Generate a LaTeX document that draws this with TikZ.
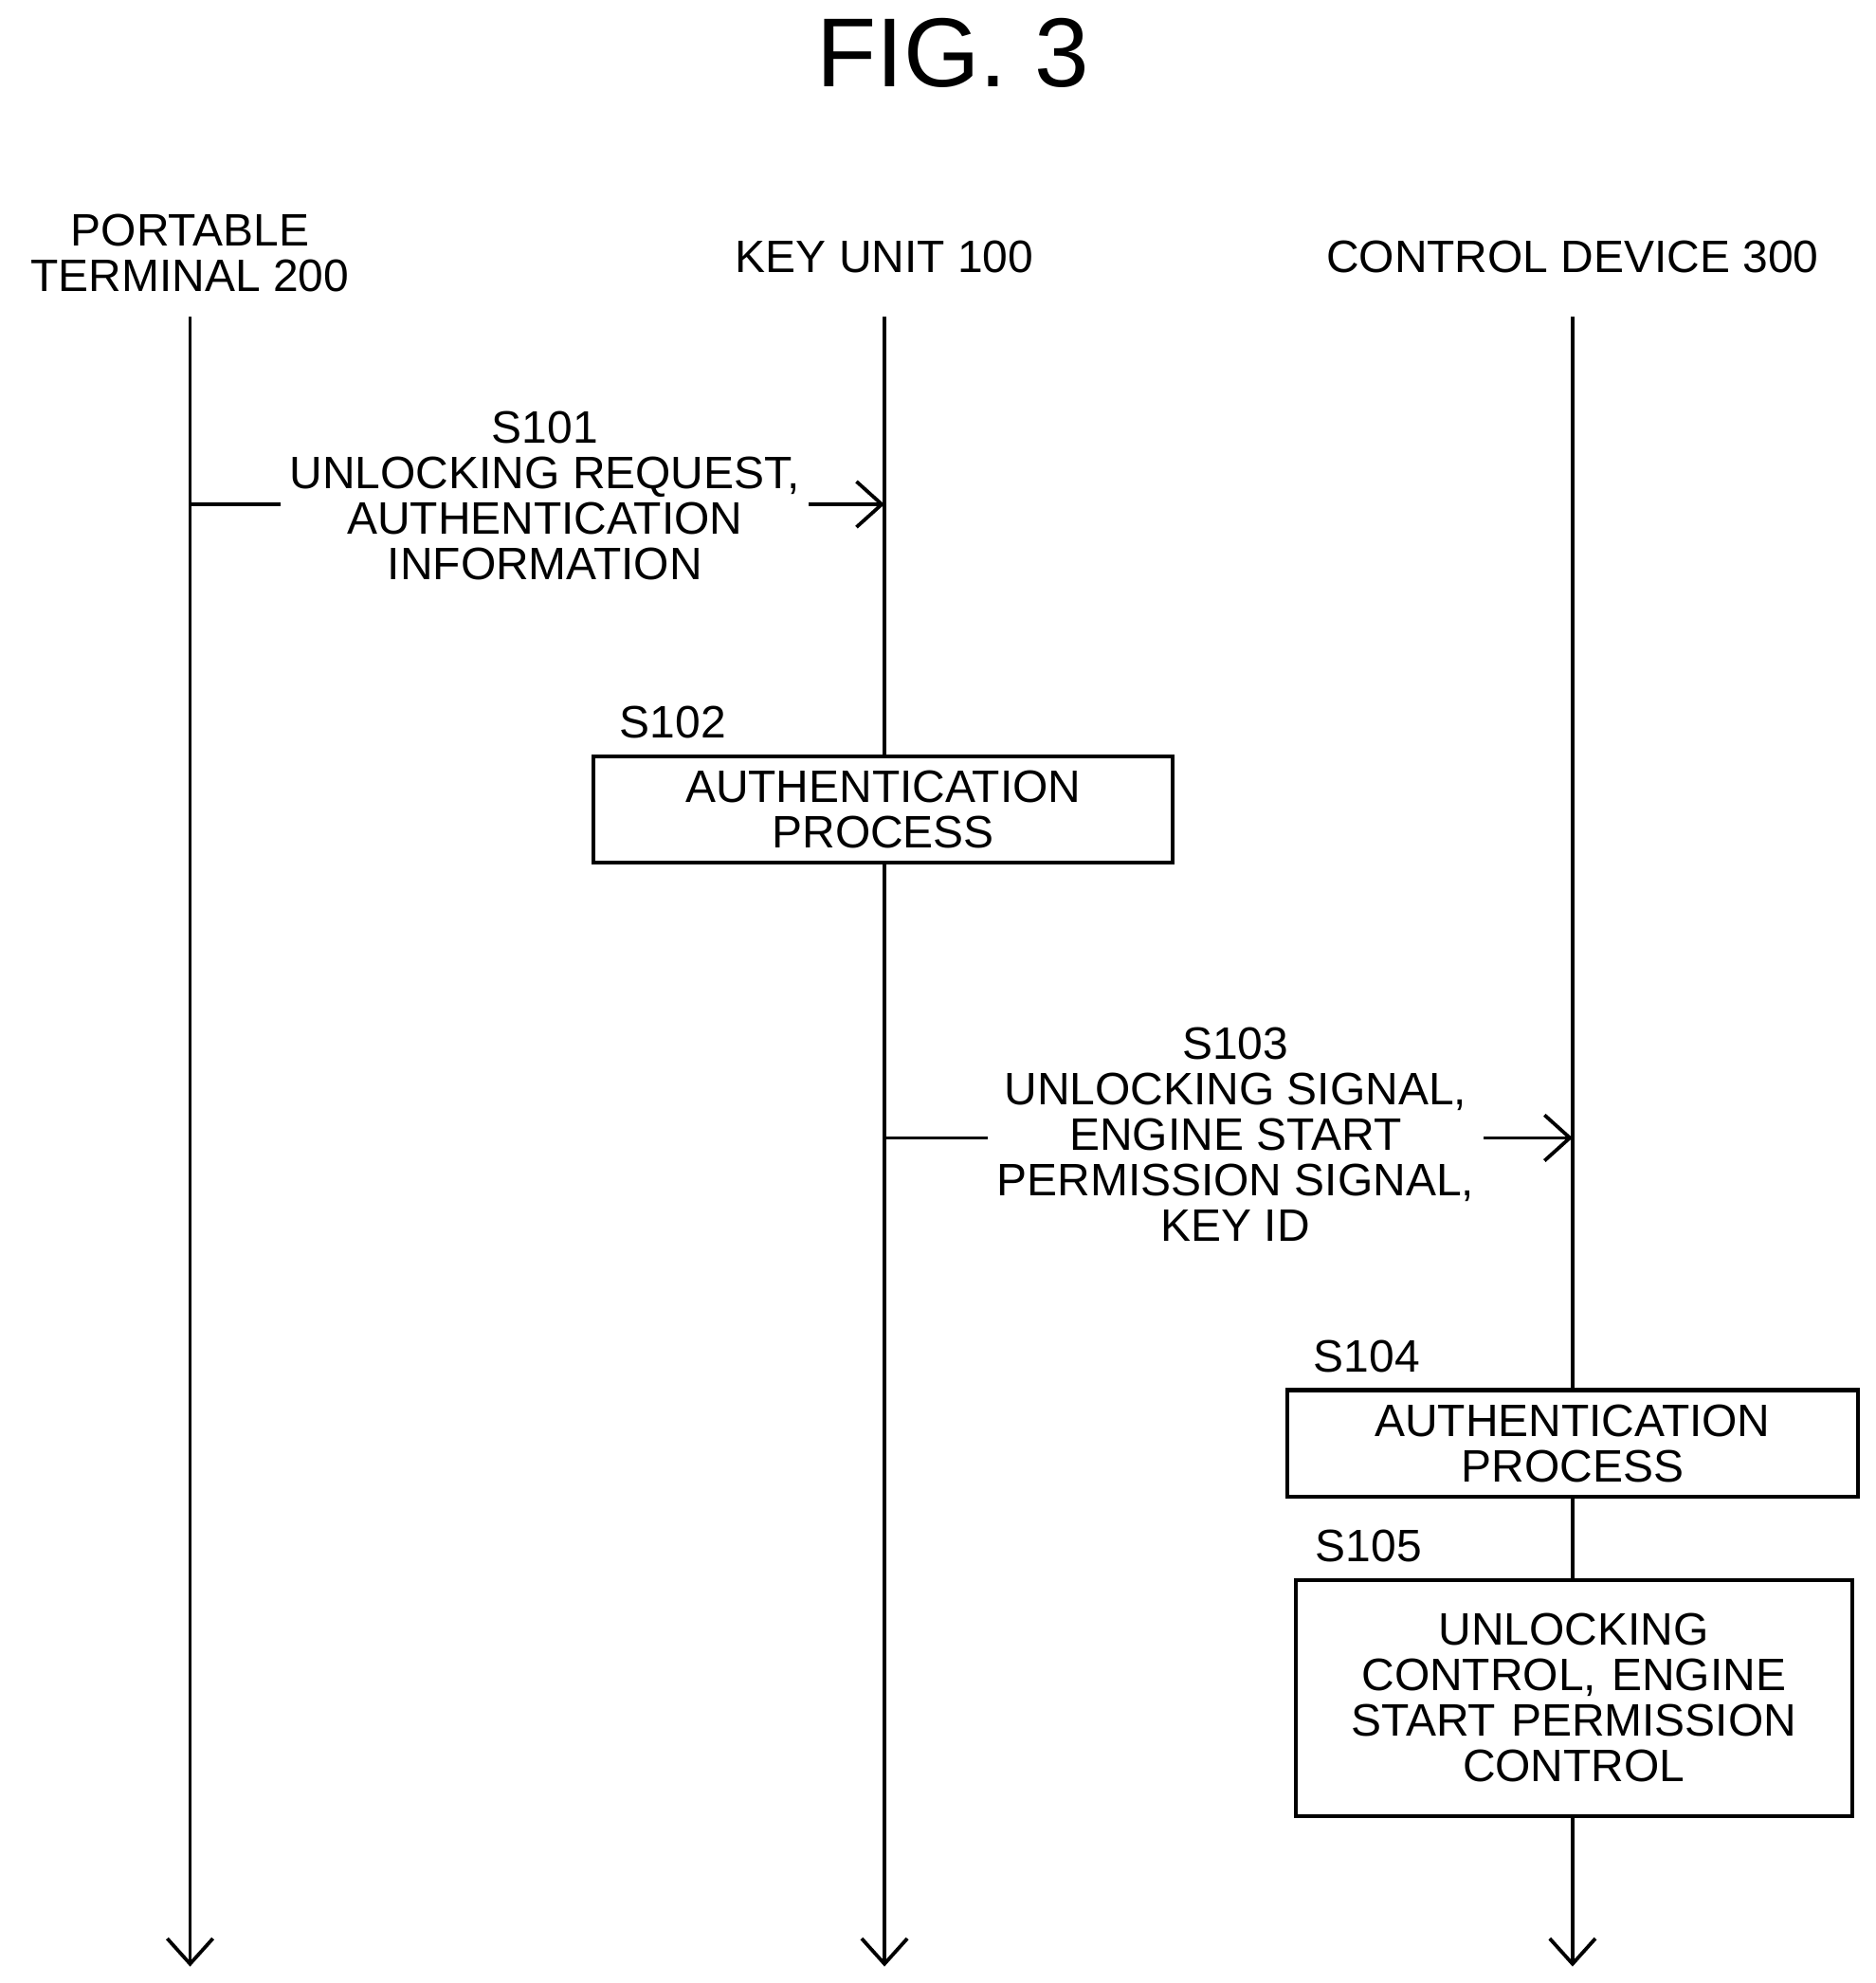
\documentclass[tikz,border=0pt]{standalone}
\usepackage{fontspec}
\setmainfont{Liberation Sans}
\usetikzlibrary{arrows.meta,positioning}
\tikzset{
  lbl/.style={align=center,font=\fontsize{10.2}{10.2}\selectfont},
  msg/.style={lbl,fill=white,inner sep=2pt},
  proc/.style={draw,fill=white,line width=0.9pt,lbl,inner sep=0pt},
  life/.style={line width=0.8pt,-{Straight Barb[length=2mm,width=3.6mm]}},
}
\begin{document}
\begin{tikzpicture}[x=0.01cm,y=-0.01cm]
\useasboundingbox (0,0) rectangle (1480,1565);
\node[font=\fontsize{22}{24}\selectfont] (fig) at (752,42) {FIG. 3};
% lifelines
\node[lbl] (pt) at (150,200) {PORTABLE\\TERMINAL 200};
\node[lbl] (ku) at (698,203) {KEY UNIT 100};
\node[lbl] (cd) at (1241,203) {CONTROL DEVICE 300};
\coordinate (pt0) at (150,250); \coordinate (pt1) at (150,1552);
\coordinate (ku0) at (698,250); \coordinate (ku1) at (698,1552);
\coordinate (cd0) at (1241,250); \coordinate (cd1) at (1241,1552);
\draw[life] (pt0) -- (pt1);
\draw[life] (ku0) -- (ku1);
\draw[life] (cd0) -- (cd1);
% S101
\coordinate (m1a) at (150,398); \coordinate (m1b) at (698,398);
\draw[life] (m1a) -- (m1b);
\node[msg] (s101) at (430,391) {S101\\UNLOCKING REQUEST,\\AUTHENTICATION\\INFORMATION};
% S102
\node[proc,text width=4.57cm,minimum height=0.84cm] (p102) at (697,639) {AUTHENTICATION\\PROCESS};
\node[lbl,above right=0pt and 0pt of p102.north west,xshift=0.1cm] (l102) {S102};
% S103
\coordinate (m3a) at (698,898); \coordinate (m3b) at (1241,898);
\draw[life] (m3a) -- (m3b);
\node[msg] (s103) at (975,895) {S103\\UNLOCKING SIGNAL,\\ENGINE START\\PERMISSION SIGNAL,\\KEY ID};
% S104
\node[proc,text width=4.5cm,minimum height=0.84cm] (p104) at (1241,1139) {AUTHENTICATION\\PROCESS};
\node[lbl,above right=0pt and 0pt of p104.north west,xshift=0.1cm] (l104) {S104};
% S105
\node[proc,text width=4.39cm,minimum height=1.86cm] (p105) at (1242,1340) {UNLOCKING\\CONTROL, ENGINE\\START PERMISSION\\CONTROL};
\node[lbl,above right=0pt and 0pt of p105.north west,xshift=0.05cm] (l105) {S105};
\end{tikzpicture}
\end{document}
